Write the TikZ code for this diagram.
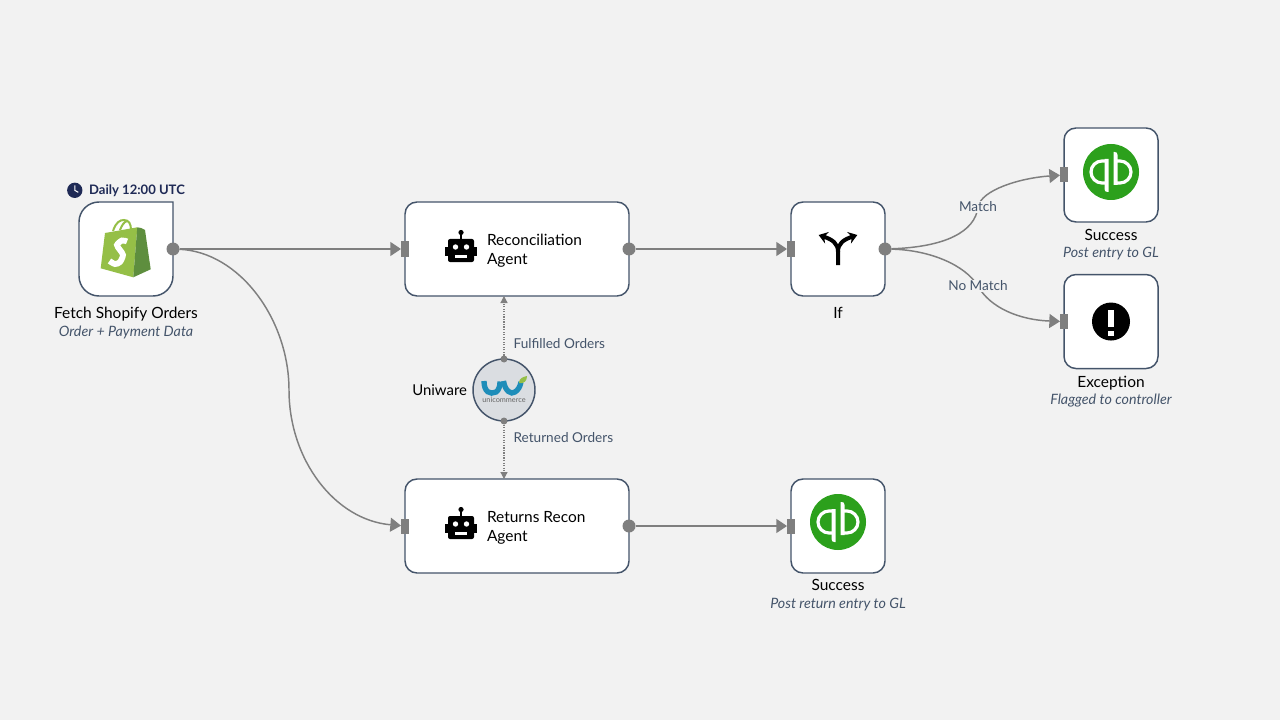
\documentclass[tikz,border=0pt]{standalone}
\usepackage{fontspec}
\setmainfont{Lato}
\usepackage{tikz}
\usetikzlibrary{positioning}
\usetikzlibrary{arrows.meta}
\definecolor{pagebg}{HTML}{F2F2F2}
\definecolor{boxline}{HTML}{44546A}
\definecolor{portgray}{HTML}{7F7F7F}
\definecolor{navy}{HTML}{1F2A56}
\definecolor{qbgreen}{HTML}{2CA01C}
\definecolor{shoplight}{HTML}{95BF47}
\definecolor{shopdark}{HTML}{5E8E3E}
\definecolor{uniblue}{HTML}{1E8DB9}
\tikzset{
  squarebox/.style = {draw=boxline, fill=white, line width=1.1pt, rounded corners=9pt, minimum width=70.5pt, minimum height=70.5pt, inner sep=0, outer sep=0},
  widebox/.style = {squarebox, minimum width=168pt},
  portout/.style = {circle, fill=portgray, minimum size=9.75pt, inner sep=0, outer sep=0},
  portin/.style = {fill=portgray, minimum width=6pt, minimum height=11.25pt, inner sep=0, outer sep=0},
  portdot/.style = {circle, fill=portgray, minimum size=5.25pt, inner sep=0, outer sep=0},
  link/.style = {draw=portgray, line width=1.1pt, -{Triangle[length=8pt,width=10.5pt]}},
  dotlink/.style = {draw=portgray, line width=.9pt, densely dotted, -{Triangle[length=5.25pt,width=5.25pt]}},
  title/.style = {font=\fontsize{11.6}{14}\selectfont, inner sep=0, outer sep=0, text height=8pt, text depth=2.5pt},
  twolines/.style = {font=\fontsize{11.6}{14.25}\selectfont, inner sep=0, outer sep=0, anchor=west, align=left},
  caption/.style = {font=\fontsize{10.7}{12}\selectfont\itshape, text=boxline, inner sep=0, outer sep=0, text height=8pt, text depth=2.5pt},
  edgetext/.style = {font=\fontsize{10.2}{12}\selectfont, text=boxline, inner sep=1pt},
  pics/robot/.style = {code = {
    \fill[rounded corners=1.5pt] (-13,-7) rectangle (13,16);
    \fill (-16,1) rectangle (16,10);
    \fill (-1,-12) rectangle (1,-7);
    \fill (0,-13.5) circle (2.6);
    \fill[white] (-5.5,1) circle (2.7);
    \fill[white] (5.5,1) circle (2.7);
    \fill[white] (-6,9) rectangle (6,12);
  }},
  pics/qbooks/.style = {code = {
    \fill[qbgreen] (0,0) circle (28);
    \draw[white, line width=2.4pt] (-4,-11) -- (-9,-11) arc[start angle=270, end angle=90, radius=11] -- (-5,11);
    \fill[white] (-6.5,-13) -- (-2.5,-13) -- (-2.5,20) -- (-3.5,20) .. controls (-5.5,20) and (-6.5,19) .. (-6.5,17) -- cycle;
    \draw[white, line width=2.4pt] (4,11) -- (9,11) arc[start angle=90, end angle=-90, radius=11] -- (5,-11);
    \fill[white] (6.5,13) -- (2.5,13) -- (2.5,-20) -- (3.5,-20) .. controls (5.5,-20) and (6.5,-19) .. (6.5,-17) -- cycle;
  }},
  pics/shopbag/.style = {code = {
    \draw[shoplight, line width=1.5pt] (-13,-18) .. controls (-10,-27) and (-6,-29) .. (-2,-29) .. controls (3,-29) and (5,-25) .. (5,-19);
    \draw[shoplight, line width=1.5pt] (-6,-19) .. controls (-4,-24) and (-2,-27) .. (1,-28);
    \fill[shoplight] (-25.3,19.3) -- (-21,-16) -- (11.3,-21.7) -- (7.3,28.3) -- cycle;
    \fill[shopdark] (11.3,-21.7) -- (15,-21) -- (19,-19) -- (24.7,20.3) -- (7.3,28.3) -- cycle;
    \draw[white, line width=4.4pt] plot[smooth] coordinates {(1,-7.5) (-4,-8.5) (-9,-4) (-6,1) (-3,6) (-6,13) (-11,15) (-16.5,12)};
  }}
}
\begin{document}
\begin{tikzpicture}[x=.75pt, y=-.75pt]
  \useasboundingbox (0,0) rectangle (1280,720);
  \fill[pagebg] (0,0) rectangle (1280,720);

  \node[squarebox, draw=none, fill=none] (fetch) at (126,249) {};
  \draw[boxline, fill=white, line width=1.1pt, rounded corners=15pt] (fetch.north east) -- (fetch.north west) -- (fetch.south west) -- (fetch.south east) [sharp corners] -- cycle;
  \pic at (fetch.center) {shopbag};
  \node[title, below=9.1pt of fetch] (fetchtitle) {Fetch Shopify Orders};
  \node[caption, below=2.6pt of fetchtitle] (fetchcaption) {Order + Payment Data};
  \node[font=\fontsize{9.8}{12}\selectfont\bfseries, text=navy, inner sep=0, outer sep=0, above=3.8pt of fetch, xshift=8.25pt] (daily) {Daily 12:00 UTC};
  \node[circle, fill=navy, minimum size=11.5pt, inner sep=0, outer sep=0, left=5pt of daily, yshift=.5pt] (clock) {};
  \draw[white, line width=.8pt] ([yshift=3.75pt]clock.center) -- (clock.center) -- ([xshift=2.6pt,yshift=-1.5pt]clock.center);

  \node[widebox, right=174pt of fetch] (recon) {};
  \pic at ([xshift=42pt,yshift=2.25pt]recon.west) {robot};
  \node[twolines] (recontext) at ([xshift=61.5pt,yshift=-1.2pt]recon.west) {Reconciliation\\Agent};

  \node[widebox, below=137.25pt of recon] (returns) {};
  \pic at ([xshift=42pt,yshift=2.25pt]returns.west) {robot};
  \node[twolines] (returnstext) at ([xshift=61.5pt,yshift=-1.2pt]returns.west) {Returns Recon\\Agent};

  \node[squarebox, right=121.5pt of recon] (iff) {};
  \draw[line width=3pt, -{Stealth[length=6.5pt,width=9pt]}] ([yshift=-12pt]iff.center) -- ([yshift=-2pt]iff.center) .. controls ([yshift=4pt]iff.center) and ([xshift=-4pt,yshift=7pt]iff.center) .. ([xshift=-14.5pt,yshift=10.5pt]iff.center);
  \draw[line width=3pt, -{Stealth[length=6.5pt,width=9pt]}] ([yshift=-2pt]iff.center) .. controls ([yshift=4pt]iff.center) and ([xshift=4pt,yshift=7pt]iff.center) .. ([xshift=14.5pt,yshift=10.5pt]iff.center);
  \node[title, below=9.1pt of iff] (ifftitle) {If};

  \node[squarebox, right=134.25pt of iff, yshift=55.5pt] (okay) {};
  \pic at ([yshift=2.25pt]okay.center) {qbooks};
  \node[title, below=5.8pt of okay] (okaytitle) {Success};
  \node[caption, below=2.6pt of okaytitle] (okaycaption) {Post entry to GL};

  \node[squarebox, right=134.25pt of iff, yshift=-54.4pt] (exception) {};
  \fill (exception.center) circle (19);
  \fill[white] ([xshift=-2.5pt,yshift=9pt]exception.center) rectangle ([xshift=2.5pt,yshift=-4pt]exception.center);
  \fill[white] ([xshift=-2.5pt,yshift=-7pt]exception.center) rectangle ([xshift=2.5pt,yshift=-11pt]exception.center);
  \node[title, below=6.5pt of exception] (exceptiontitle) {Exception};
  \node[caption, below=2.2pt of exceptiontitle] (exceptioncaption) {Flagged to controller};

  \node[squarebox, right=121.5pt of returns] (posted) {};
  \pic at ([yshift=3pt]posted.center) {qbooks};
  \node[title, below=5.4pt of posted] (postedtitle) {Success};
  \node[caption, below=2.6pt of postedtitle] (postedcaption) {Post return entry to GL};

  \node[circle, draw=boxline, fill=boxline!20, line width=1.1pt, minimum size=46.5pt, inner sep=0, outer sep=0] (uni) at (504,390) {};
  \draw[uniblue, line width=4pt] (484,381) .. controls (484,392) and (490,395) .. (496,392) .. controls (499,390) and (500,386) .. (500,381.5);
  \draw[uniblue, line width=4pt] (503.5,381) .. controls (505,391) and (511,395) .. (515,392) .. controls (518,390) and (520,387) .. (521,382);
  \fill[shoplight] (519,383) .. controls (519,378) and (523,377) .. (527,376) .. controls (527,381) and (524,384) .. (519,383);
  \node[font=\fontsize{5.5}{6}\selectfont, text=black!60, inner sep=0] (unilogo) at (504,400) {unicommerce};
  \node[title, font=\fontsize{11.2}{14}\selectfont, left=4.5pt of uni, yshift=-1.5pt] (unititle) {Uniware};

  \node[portout] (fetchout) at (fetch.east) {};
  \node[portin] (reconin) at (recon.west) {};
  \node[portout] (reconout) at (recon.east) {};
  \node[portin] (returnsin) at (returns.west) {};
  \node[portout] (returnsout) at (returns.east) {};
  \node[portin] (iffin) at (iff.west) {};
  \node[portout] (iffout) at (iff.east) {};
  \node[portin] (okayin) at (okay.west) {};
  \node[portin] (exceptionin) at (exception.west) {};
  \node[portin] (postedin) at (posted.west) {};
  \node[portdot] (unitop) at (uni.north) {};
  \node[portdot] (unibottom) at (uni.south) {};

  \coordinate (fetchbend) at (289,390);
  \coordinate (matchbend) at (978,207);
  \coordinate (nomatchbend) at (978,286);

  \draw[link] (fetchout) -- (reconin);
  \draw[link] (fetchout) .. controls (240,252) and (289,320) .. (fetchbend) .. controls (289,460) and (335,520) .. (returnsin);
  \draw[link] (reconout) -- (iffin);
  \draw[link] (returnsout) -- (postedin);
  \draw[link] (iffout) .. controls (945,247) and (975,232) .. (matchbend) .. controls (981,190) and (1020,178) .. (okayin);
  \draw[link] (iffout) .. controls (930,250) and (965,265) .. (nomatchbend) .. controls (990,308) and (1020,320) .. (exceptionin);
  \draw[dotlink] (unitop) -- (unitop |- recon.south);
  \draw[dotlink] (unibottom) -- (unibottom |- returns.north);

  \node[edgetext, fill=pagebg] (matchlabel) at (matchbend) {Match};
  \node[edgetext, fill=pagebg] (nomatchlabel) at (nomatchbend) {No Match};
  \node[edgetext, anchor=west] (fulfilled) at (512,343.5) {Fulfilled Orders};
  \node[edgetext, anchor=west] (returned) at (512,437.5) {Returned Orders};
\end{tikzpicture}
\end{document}
